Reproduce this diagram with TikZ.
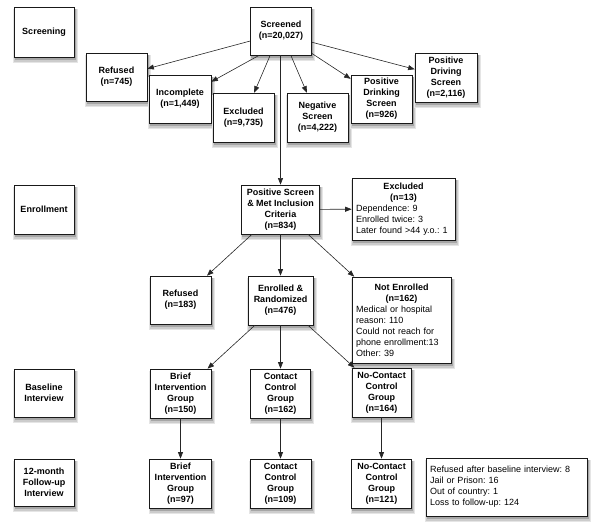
\documentclass[tikz,border=0pt]{standalone}
\usepackage{fontspec}
\setmainfont{Liberation Sans}
\usepackage{tikz}
\usetikzlibrary{arrows.meta, backgrounds}
\setlength{\parindent}{0pt}
\frenchspacing

\tikzset{
  box/.style={draw=black!90, line width=0.7pt, fill=white, align=center,
    font=\fontsize{9}{11}\selectfont\bfseries, inner sep=2pt},
  notebox/.style={box, align=left, font=\fontsize{9}{11}\selectfont, inner xsep=4pt},
  arr/.style={draw=black!85, line width=0.6pt, -{Triangle[length=6.5pt,width=5pt]}}
}

\begin{document}
\begin{tikzpicture}[x=1pt, y=-1pt]
    \useasboundingbox (0,0) rectangle (600,532);
    % stage labels
    \node[box, minimum width=60pt, minimum height=50pt] (lblscr) at (44,32) {Screening};
    \node[box, minimum width=60pt, minimum height=49pt] (lblenr) at (44,209.5) {Enrollment};
    \node[box, minimum width=60pt, minimum height=48pt] (lblbase) at (44,393) {Baseline\\Interview};
    \node[box, minimum width=60pt, minimum height=47pt] (lblfol) at (44,482.5) {12-month\\Follow-up\\Interview};
    % screening
    \node[box, minimum width=61pt, minimum height=48pt] (scr) at (281,31) {Screened\\(n=20,027)};
    \node[box, minimum width=61pt, minimum height=48pt] (ref745) at (116.5,77) {Refused\\(n=745)};
    \node[box, minimum width=62pt, minimum height=48pt] (inc) at (180,99) {Incomplete\\(n=1,449)};
    \node[box, minimum width=61pt, minimum height=49pt] (exc) at (243.5,117.5) {Excluded\\(n=9,735)};
    \node[box, minimum width=61pt, minimum height=49pt] (neg) at (317.5,117.5) {Negative\\Screen\\(n=4,222)};
    \node[box, minimum width=61pt, minimum height=48pt] (drink) at (381.5,99) {Positive\\Drinking\\Screen\\(n=926)};
    \node[box, minimum width=62pt, minimum height=49pt] (drive) at (446,77.5) {Positive\\Driving\\Screen\\(n=2,116)};
    % enrollment
    \node[box, minimum width=78pt, minimum height=49pt] (pos) at (280.5,209.5) {Positive Screen\\\& Met Inclusion\\Criteria\\(n=834)};
    \node[notebox, text width=95pt, minimum height=62pt] (excl) at (403.5,209)
      {{\centering\bfseries Excluded\\(n=13)\par}Dependence: 9\\Enrolled twice: 3\\Later found >44 y.o.: 1};
    \node[box, minimum width=61pt, minimum height=48pt] (ref183) at (180.5,300) {Refused\\(n=183)};
    \node[box, minimum width=65pt, minimum height=49pt] (rand) at (280.5,300.5) {Enrolled \&\\Randomized\\(n=476)};
    \node[notebox, text width=91pt, minimum height=86pt] (notenr) at (401.5,320)
      {{\centering\bfseries Not Enrolled\\(n=162)\par}Medical or hospital\\reason: 110\\Could not reach for\\phone enrollment:13\\Other: 39};
    % baseline
    \node[box, minimum width=61pt, minimum height=49pt] (bi1) at (180.5,393.5) {Brief\\Intervention\\Group\\(n=150)};
    \node[box, minimum width=60pt, minimum height=49pt] (cc1) at (280.5,393.5) {Contact\\Control\\Group\\(n=162)};
    \node[box, minimum width=59pt, minimum height=49pt] (nc1) at (381.5,392.5) {No-Contact\\Control\\Group\\(n=164)};
    % follow-up
    \node[box, minimum width=62pt, minimum height=49pt] (bi2) at (180.5,483.5) {Brief\\Intervention\\Group\\(n=97)};
    \node[box, minimum width=61pt, minimum height=49pt] (cc2) at (280.5,483.5) {Contact\\Control\\Group\\(n=109)};
    \node[box, minimum width=60pt, minimum height=49pt] (nc2) at (381.5,483.5) {No-Contact\\Control\\Group\\(n=121)};
    \node[notebox, text width=153pt, minimum height=58pt] (notes) at (506.5,487)
      {Refused after baseline interview: 8\\Jail or Prison: 16\\Out of country: 1\\Loss to follow-up: 124};

    % shadows behind the boxes
    \begin{scope}[on background layer]
      \foreach \n in {lblscr,lblenr,lblbase,lblfol,scr,ref745,inc,exc,neg,drink,drive,
                      pos,excl,ref183,rand,notenr,bi1,cc1,nc1,bi2,cc2,nc2,notes} {
        \fill[black!10] ([xshift=-0.5pt,yshift=-6pt]\n.south west) rectangle ([xshift=3.5pt,yshift=-2pt]\n.north east);
        \fill[black!20] ([xshift=0.5pt,yshift=-4.5pt]\n.south west) rectangle ([xshift=2.5pt,yshift=-2.5pt]\n.north east);
        \fill[black!35] ([xshift=1pt,yshift=-3pt]\n.south west) rectangle ([xshift=1.5pt,yshift=-2pt]\n.north east);
      }
    \end{scope}

    % connectors
    \draw[arr] (scr.198) -- (ref745);
    \draw[arr] (scr.228) -- (inc);
    \draw[arr] (scr.246) -- (exc);
    \draw[arr] (scr.292) -- (neg);
    \draw[arr] (scr.324) -- (drink);
    \draw[arr] (scr.340) -- (drive);
    \draw[arr] (pos.north |- scr.south) -- (pos);
    \draw[arr] (pos) -- (excl);
    \draw[arr] (pos.221) -- (ref183);
    \draw[arr] (pos) -- (rand);
    \draw[arr] (pos.318) -- (notenr);
    \draw[arr] (rand.224) -- (bi1);
    \draw[arr] (rand) -- (cc1);
    \draw[arr] (rand.318) -- (nc1);
    \draw[arr] (bi1) -- (bi2);
    \draw[arr] (cc1) -- (cc2);
    \draw[arr] (nc1) -- (nc2);
\end{tikzpicture}
\end{document}
